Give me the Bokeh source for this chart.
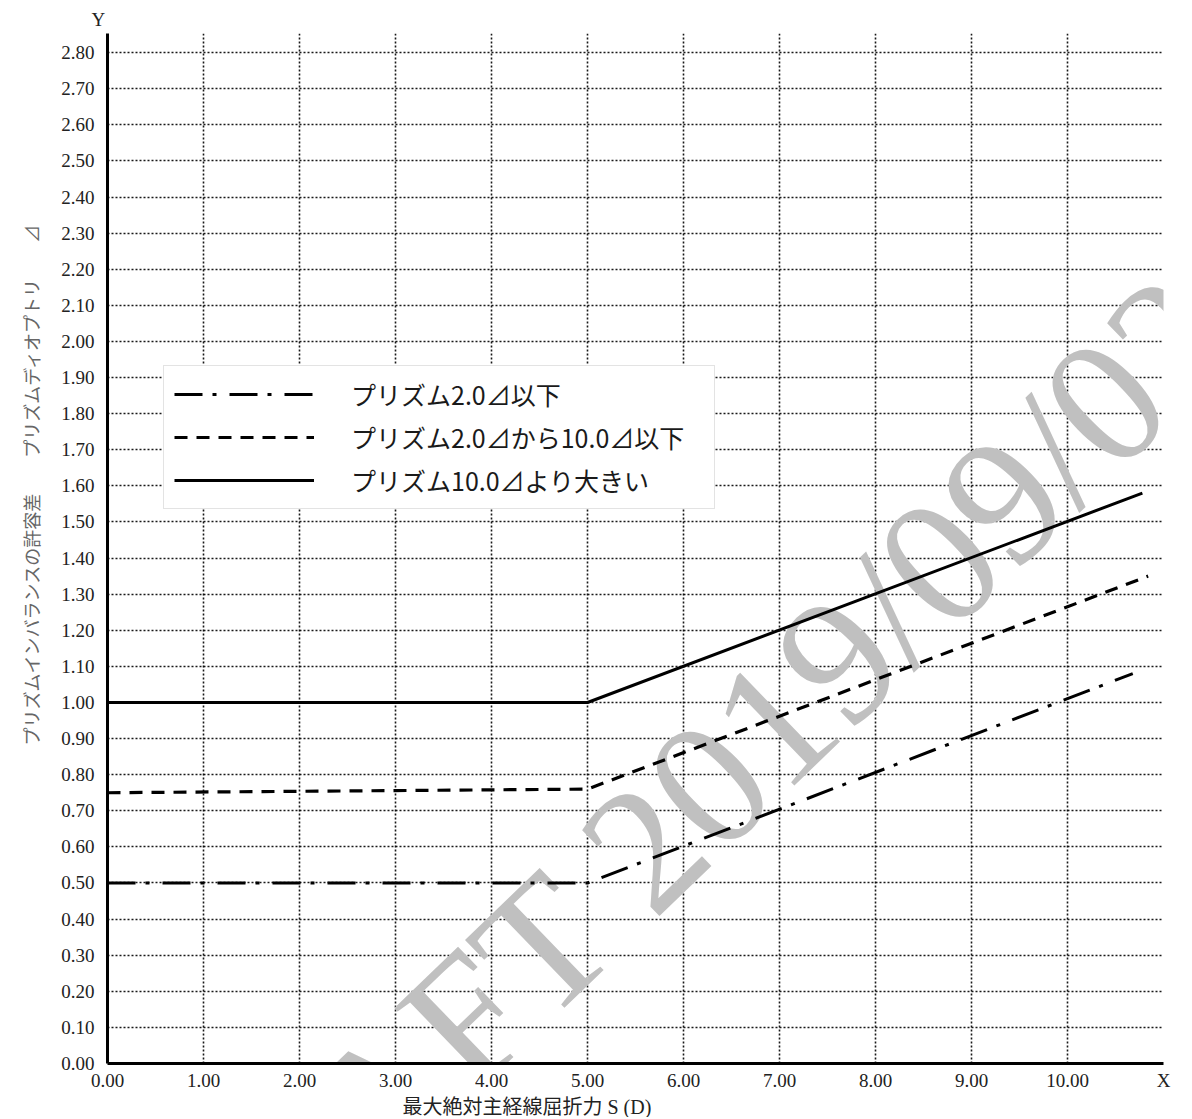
from bokeh.plotting import figure
from bokeh.models import Label, FixedTicker, Title
from bokeh.embed import file_html
from bokeh.resources import INLINE

# ---- data ----
# maximum absolute principal meridian power S (D) -> permissible prism imbalance (prism dioptre)
s_le_2 = [0.0, 5.0, 10.68]          # prism <= 2.0
y_le_2 = [0.50, 0.50, 1.08]
s_2_10 = [0.0, 5.0, 10.84]          # prism 2.0 .. 10.0
y_2_10 = [0.75, 0.76, 1.35]
s_gt_10 = [0.0, 5.0, 10.78]         # prism > 10.0
y_gt_10 = [1.00, 1.00, 1.58]

series_names = ["プリズム2.0⊿以下", "プリズム2.0⊿から10.0⊿以下", "プリズム10.0⊿より大きい"]

x_ticks = [0, 1, 2, 3, 4, 5, 6, 7, 8, 9, 10, 11]
x_tick_labels = ["0.00", "1.00", "2.00", "3.00", "4.00", "5.00", "6.00", "7.00", "8.00", "9.00", "10.00", "X"]
x_grid = [1, 2, 3, 4, 5, 6, 7, 8, 9, 10]
y_ticks = [0.0, 0.1, 0.2, 0.3, 0.4, 0.5, 0.6, 0.7, 0.8, 0.9, 1.0, 1.1, 1.2, 1.3, 1.4,
           1.5, 1.6, 1.7, 1.8, 1.9, 2.0, 2.1, 2.2, 2.3, 2.4, 2.5, 2.6, 2.7, 2.8]
y_tick_labels = ["0.00", "0.10", "0.20", "0.30", "0.40", "0.50", "0.60", "0.70", "0.80", "0.90",
                 "1.00", "1.10", "1.20", "1.30", "1.40", "1.50", "1.60", "1.70", "1.80", "1.90",
                 "2.00", "2.10", "2.20", "2.30", "2.40", "2.50", "2.60", "2.70", "2.80"]

x_title = "最大絶対主経線屈折力   S (D)"
y_title = "プリズムインバランスの許容差　　プリズムディオプトリ　　⊿"
y_marker = "Y"
watermark = "DRAFT 2019/09/02"

SERIF = "Liberation Serif"
SANS_JP = "Noto Sans CJK JP"

p = figure(frame_width=1056, frame_height=1030,
           x_range=(0, 11.0), y_range=(0, 2.853),
           min_border_left=107, min_border_right=21, min_border_top=33, min_border_bottom=46,
           output_backend="svg", toolbar_location=None)
p.outline_line_color = None
p.background_fill_color = "white"

# axes
for ax in (p.xaxis[0], p.yaxis[0]):
    ax.axis_line_width = 3
    ax.axis_line_color = "black"
    ax.major_tick_line_color = None
    ax.minor_tick_line_color = None
    ax.major_label_text_font = SERIF
    ax.major_label_text_font_size = "19px"
    ax.major_label_text_color = "#222222"
    ax.major_label_standoff = 7
p.xaxis.major_label_standoff = 0

p.xaxis.ticker = FixedTicker(ticks=x_ticks)
p.xaxis.major_label_overrides = {t: l for t, l in zip(x_ticks, x_tick_labels)}
p.yaxis.ticker = FixedTicker(ticks=y_ticks)
p.yaxis.major_label_overrides = {t: l for t, l in zip(y_ticks, y_tick_labels)}

# grids (dotted)
p.xgrid.ticker = FixedTicker(ticks=x_grid)
p.ygrid.ticker = FixedTicker(ticks=y_ticks[1:])
for g in (p.xgrid[0], p.ygrid[0]):
    g.grid_line_color = "black"
    g.grid_line_dash = "2 2"
    g.grid_line_width = 1.6
    g.grid_line_alpha = 0.9

# watermark (screen offsets from the frame's bottom-left corner)
p.add_layout(Label(x=573, y=252, x_units="screen", y_units="screen", text=watermark,
                   text_font=SERIF, text_font_size="180px",
                   text_color="#c0c0c0", angle=44, angle_units="deg",
                   text_align="center", text_baseline="middle", level="underlay"))

# series
p.line(s_le_2, y_le_2, line_color="black", line_width=3, line_dash="28 10 4 13",
       legend_label=series_names[0])
p.line(s_2_10, y_2_10, line_color="black", line_width=3.2, line_dash="13 9",
       legend_label=series_names[1])
p.line(s_gt_10, y_gt_10, line_color="black", line_width=3,
       legend_label=series_names[2])

lg = p.legend[0]
lg.location = (56, 554)
lg.margin = 0
lg.padding = 10
lg.spacing = 7
lg.label_height = 30
lg.glyph_height = 20
lg.glyph_width = 140
lg.label_standoff = 37
lg.label_width = 353
lg.label_text_font = SANS_JP
lg.label_text_font_size = "25px"
lg.label_text_color = "#1a1a1a"
lg.border_line_color = "#c8c8c8"
lg.border_line_width = 1
lg.background_fill_color = "white"
lg.background_fill_alpha = 1.0

# axis titles (side panels, so they are not clipped to the frame)
p.add_layout(Title(text=x_title, align="left", offset=295, standoff=0,
                   text_font=SERIF + ", " + SANS_JP, text_font_size="20px",
                   text_font_style="normal", text_color="#222222"), "below")
p.add_layout(Title(text=y_title, align="left", offset=318, standoff=29,
                   text_font=SANS_JP, text_font_size="18px",
                   text_font_style="normal", text_color="#666666"), "left")
p.add_layout(Title(text=y_marker, align="left", offset=-16, standoff=8,
                   text_font=SERIF, text_font_size="19px",
                   text_font_style="normal", text_color="#222222"), "above")

open("out.html", "w").write(file_html(p, INLINE))
